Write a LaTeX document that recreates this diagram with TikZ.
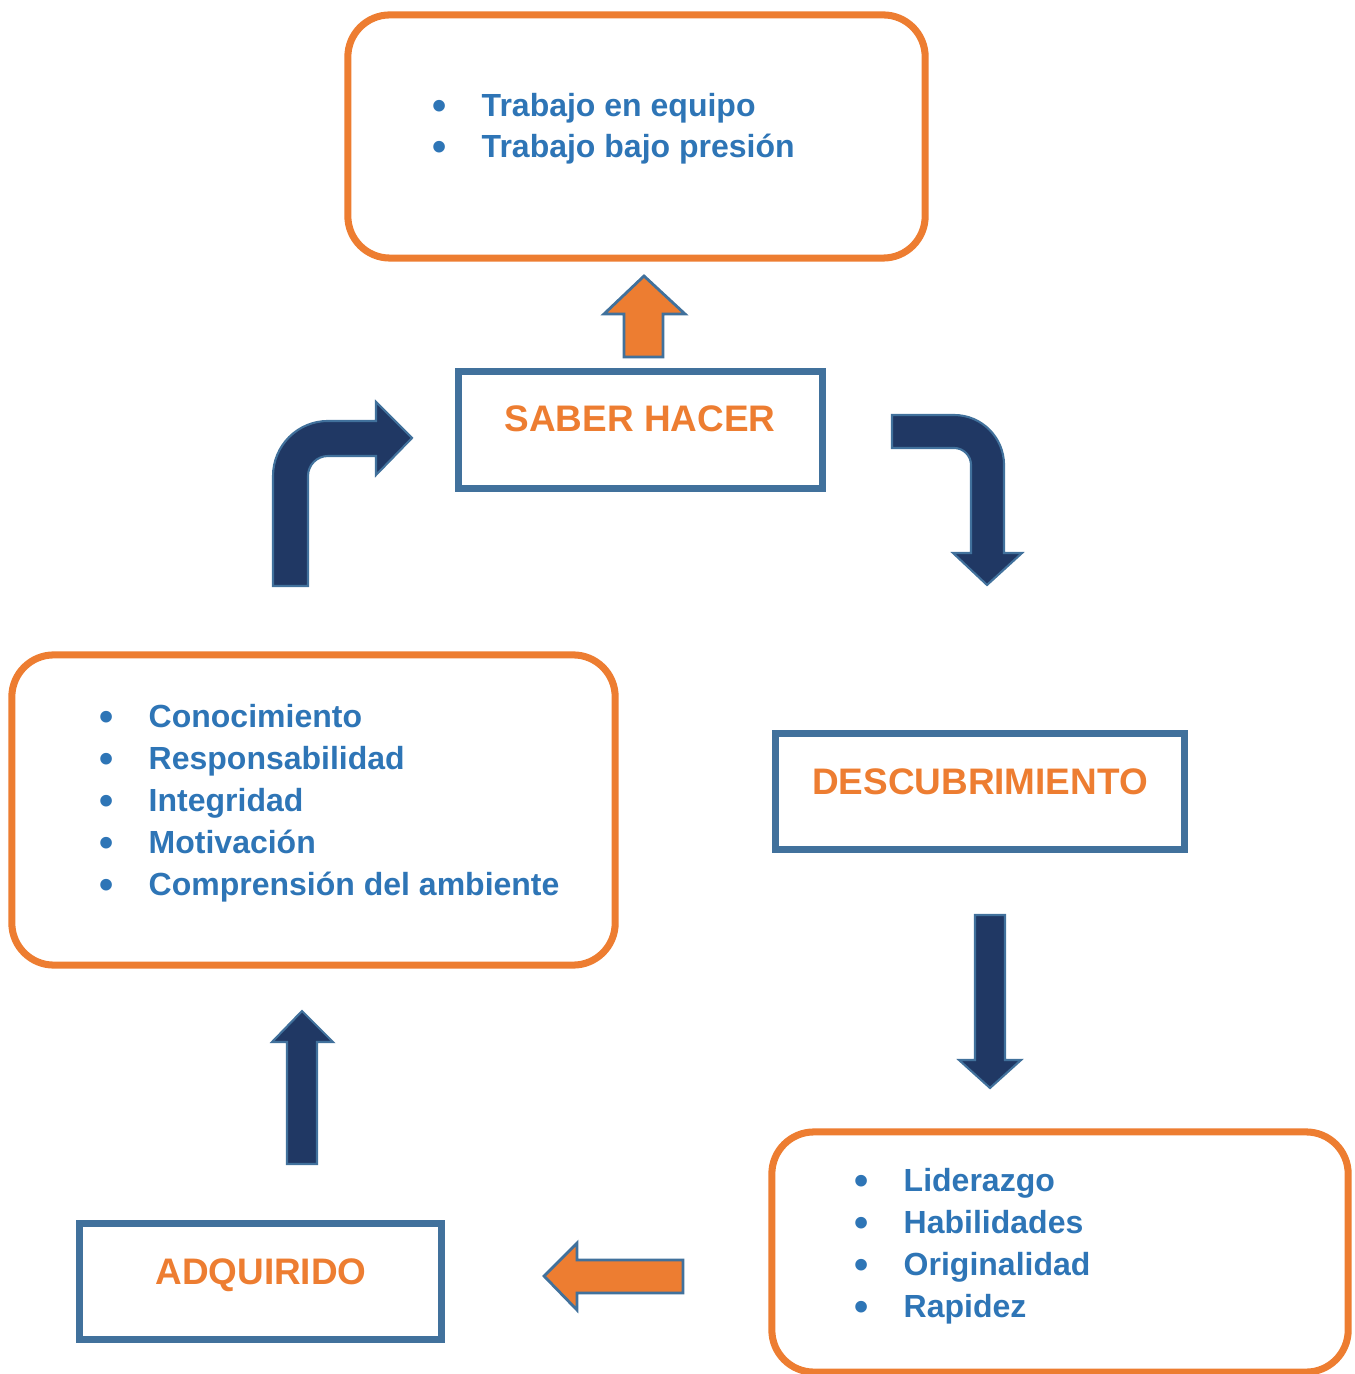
\documentclass[tikz,border=0pt]{standalone}
\usepackage{fontspec}
\setmainfont{Liberation Sans}
\definecolor{naranja}{HTML}{ED7D31}
\definecolor{azultxt}{HTML}{2E75B6}
\definecolor{azulmarco}{HTML}{41719C}
\definecolor{marino}{HTML}{203864}
\begin{document}
\begin{tikzpicture}[x=0.01cm,y=-0.01cm,
  cajon/.style={draw=naranja,line width=2pt,rounded corners=0.42cm,inner sep=0pt,outer sep=0pt},
  marco/.style={draw=azulmarco,line width=2pt,inner sep=0pt,outer sep=0pt,minimum height=1.16cm},
  titulo/.style={text=naranja,font=\fontsize{10.5pt}{12pt}\selectfont\bfseries,anchor=base,inner sep=0pt},
  elem/.style={text=azultxt,font=\fontsize{9.1pt}{11pt}\selectfont\bfseries,anchor=base west,inner sep=0pt},
  punto/.style={text=azultxt,font=\fontsize{11.5pt}{13pt}\selectfont\bfseries,anchor=base,inner sep=0pt,yshift=-0.03cm},
  flechaN/.style={fill=marino,draw=azulmarco,line width=0.6pt},
  flechaO/.style={fill=naranja,draw=azulmarco,line width=0.8pt}]
  \useasboundingbox (0,0) rectangle (1354,1374);

  % cajas
  \node[cajon,minimum width=5.77cm,minimum height=2.43cm] (equipo) at (636.5,136.5) {};
  \node[cajon,minimum width=6.03cm,minimum height=3.10cm] (valores) at (313.5,810) {};
  \node[cajon,minimum width=5.76cm,minimum height=2.40cm] (lider) at (1060,1252) {};
  \node[marco,minimum width=3.63cm] (saber) at (640.5,430) {};
  \node[marco,minimum width=4.08cm] (descub) at (980,791.5) {};
  \node[marco,minimum width=3.61cm] (adqui) at (260.5,1281.5) {};

  \node[titulo] (saberT) at (640,432) {SABER HACER};
  \node[titulo] (descubT) at (980,794) {DESCUBRIMIENTO};
  \node[titulo] (adquiT) at (261,1284) {ADQUIRIDO};

  % listas
  \foreach \txt [count=\i from 0] in {Trabajo en equipo,Trabajo bajo presión} {
    \node[punto] (equipoP\i) at (440,117+41*\i) {•};
    \node[elem] (equipoL\i) at (481,117+41*\i) {\txt};
  }
  \foreach \txt [count=\i from 0] in {Conocimiento,Responsabilidad,Integridad,Motivación,Comprensión del ambiente} {
    \node[punto] (valoresP\i) at (107,727+42*\i) {•};
    \node[elem] (valoresL\i) at (148,727+42*\i) {\txt};
  }
  \foreach \txt [count=\i from 0] in {Liderazgo,Habilidades,Originalidad,Rapidez} {
    \node[punto] (liderP\i) at (862,1191+42*\i) {•};
    \node[elem] (liderL\i) at (903,1191+42*\i) {\txt};
  }

  % flechas
  \draw[flechaO] (624,357) -- (624,314) -- (604,314) -- (644,276) -- (685,314) -- (663,314) -- (663,357) -- cycle;
  \draw[flechaN] (273,586) -- (273,476) arc[start angle=180,end angle=90,radius=0.55cm]
    -- (376,421) -- (376,402) -- (412,438) -- (376,475) -- (376,456) -- (328,456)
    arc[start angle=90,end angle=180,radius=0.2cm] -- (308,586) -- cycle;
  \draw[flechaN] (892,415) -- (954,415) arc[start angle=90,end angle=0,radius=0.5cm]
    -- (1004,553) -- (1022,553) -- (987,585) -- (953,553) -- (971,553) -- (971,465)
    arc[start angle=0,end angle=90,radius=0.17cm] -- (892,448) -- cycle;
  \draw[flechaN] (975,915) -- (1005,915) -- (1005,1060) -- (1021,1060) -- (990,1088) -- (959,1060) -- (975,1060) -- cycle;
  \draw[flechaO] (683,1260) -- (577,1260) -- (577,1243) -- (544,1276) -- (577,1310) -- (577,1293) -- (683,1293) -- cycle;
  \draw[flechaN] (287,1164) -- (287,1042) -- (272,1042) -- (302,1011) -- (333,1042) -- (317,1042) -- (317,1164) -- cycle;
\end{tikzpicture}
\end{document}
